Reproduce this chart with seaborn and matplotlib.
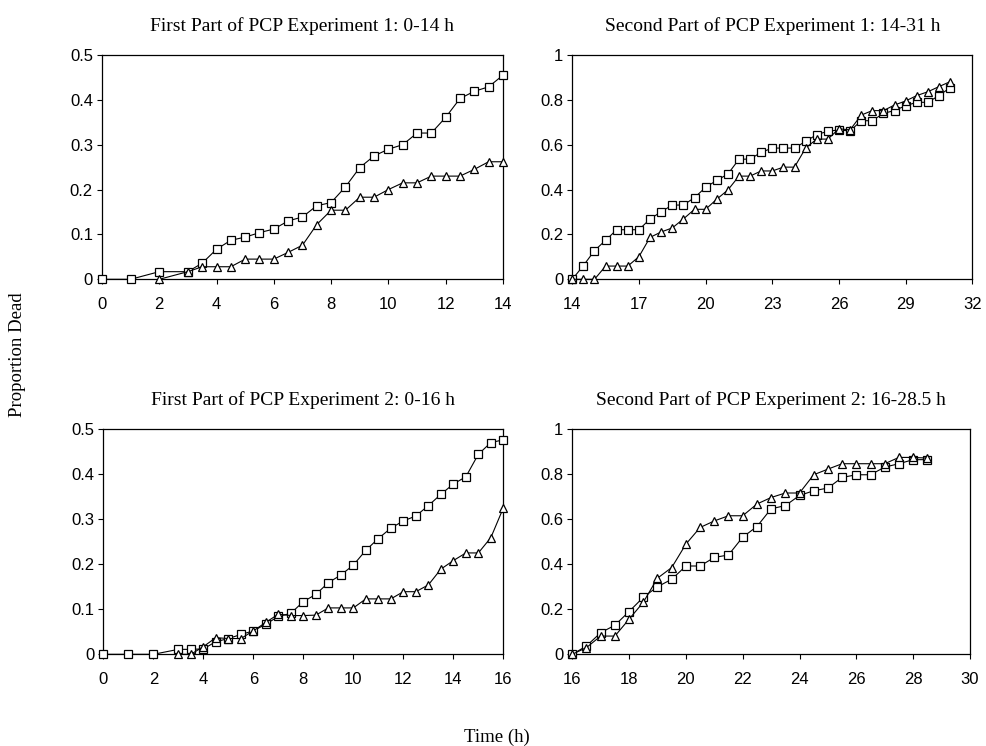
import matplotlib
matplotlib.use("Agg")
import matplotlib.pyplot as plt
import seaborn as sns
import pandas as pd

# ---------------- data ----------------
# Experiment 1, first part (0-14 h)
t1_sq = [0, 1, 2, 3, 3.5, 4, 4.5, 5, 5.5, 6, 6.5, 7, 7.5, 8, 8.5, 9, 9.5, 10, 10.5, 11, 11.5, 12, 12.5, 13, 13.5, 14]
e1a_sq = [0, 0, 0.017, 0.017, 0.036, 0.067, 0.087, 0.094, 0.104, 0.112, 0.130, 0.139, 0.164, 0.171, 0.206,
          0.249, 0.275, 0.290, 0.300, 0.326, 0.326, 0.361, 0.403, 0.419, 0.429, 0.455]
t1_tri = [2, 3, 3.5, 4, 4.5, 5, 5.5, 6, 6.5, 7, 7.5, 8, 8.5, 9, 9.5, 10, 10.5, 11, 11.5, 12, 12.5, 13, 13.5, 14]
e1a_tri = [0, 0.017, 0.028, 0.028, 0.028, 0.045, 0.045, 0.045, 0.060, 0.076, 0.122, 0.154, 0.154, 0.183,
           0.183, 0.200, 0.215, 0.215, 0.230, 0.230, 0.230, 0.245, 0.262, 0.262]

# Experiment 1, second part (14-31 h)
t2 = [14, 14.5, 15, 15.5, 16, 16.5, 17, 17.5, 18, 18.5, 19, 19.5, 20, 20.5, 21, 21.5, 22, 22.5, 23, 23.5,
      24, 24.5, 25, 25.5, 26, 26.5, 27, 27.5, 28, 28.5, 29, 29.5, 30, 30.5, 31]
e1b_sq = [0, 0.061, 0.128, 0.174, 0.221, 0.221, 0.221, 0.269, 0.301, 0.331, 0.331, 0.364, 0.410, 0.441,
          0.469, 0.535, 0.536, 0.566, 0.585, 0.585, 0.585, 0.615, 0.645, 0.660, 0.666, 0.661, 0.707, 0.707,
          0.740, 0.752, 0.774, 0.789, 0.789, 0.819, 0.854]
e1b_tri = [0, 0, 0, 0.059, 0.059, 0.059, 0.101, 0.187, 0.211, 0.229, 0.269, 0.312, 0.312, 0.357, 0.398,
           0.460, 0.460, 0.483, 0.483, 0.500, 0.500, 0.585, 0.625, 0.625, 0.671, 0.666, 0.732, 0.752, 0.752,
           0.777, 0.795, 0.819, 0.836, 0.859, 0.881]

# Experiment 2, first part (0-16 h)
t3_sq = [0, 1, 2, 3, 3.5, 4, 4.5, 5, 5.5, 6, 6.5, 7, 7.5, 8, 8.5, 9, 9.5, 10, 10.5, 11, 11.5, 12, 12.5,
         13, 13.5, 14, 14.5, 15, 15.5, 16]
e2a_sq = [0, 0, 0, 0.011, 0.011, 0.012, 0.028, 0.035, 0.044, 0.052, 0.067, 0.084, 0.091, 0.117, 0.133,
          0.159, 0.176, 0.198, 0.231, 0.257, 0.280, 0.296, 0.307, 0.330, 0.355, 0.378, 0.394, 0.444, 0.470, 0.476]
t3_tri = [3, 3.5, 4, 4.5, 5, 5.5, 6, 6.5, 7, 7.5, 8, 8.5, 9, 9.5, 10, 10.5, 11, 11.5, 12, 12.5, 13, 13.5,
          14, 14.5, 15, 15.5, 16]
e2a_tri = [0, 0, 0.017, 0.037, 0.035, 0.035, 0.052, 0.071, 0.089, 0.086, 0.086, 0.087, 0.103, 0.103, 0.103,
           0.123, 0.123, 0.123, 0.139, 0.139, 0.154, 0.189, 0.208, 0.225, 0.225, 0.259, 0.325]

# Experiment 2, second part (16-28.5 h)
t4 = [16, 16.5, 17, 17.5, 18, 18.5, 19, 19.5, 20, 20.5, 21, 21.5, 22, 22.5, 23, 23.5, 24, 24.5, 25, 25.5,
      26, 26.5, 27, 27.5, 28, 28.5]
e2b_sq = [0, 0.037, 0.096, 0.129, 0.190, 0.253, 0.300, 0.333, 0.392, 0.392, 0.430, 0.441, 0.520, 0.567,
          0.646, 0.660, 0.705, 0.726, 0.738, 0.785, 0.797, 0.797, 0.831, 0.846, 0.864, 0.864]
e2b_tri = [0, 0.030, 0.081, 0.081, 0.156, 0.231, 0.338, 0.385, 0.489, 0.563, 0.592, 0.615, 0.615, 0.667,
           0.696, 0.716, 0.716, 0.797, 0.822, 0.846, 0.846, 0.846, 0.846, 0.874, 0.874, 0.871]

titles = ["First Part of PCP Experiment 1: 0-14 h",
          "Second Part of PCP Experiment 1: 14-31 h",
          "First Part of PCP Experiment 2: 0-16 h",
          "Second Part of PCP Experiment 2: 16-28.5 h"]
xticks_list = [list(range(0, 15, 2)), list(range(14, 33, 3)), list(range(0, 17, 2)), list(range(16, 31, 2))]
yticks_half = [0, 0.1, 0.2, 0.3, 0.4, 0.5]
ylabels_half = ["0", "0.1", "0.2", "0.3", "0.4", "0.5"]
yticks_full = [0, 0.2, 0.4, 0.6, 0.8, 1.0]
ylabels_full = ["0", "0.2", "0.4", "0.6", "0.8", "1"]

panels = [
    (t1_sq, e1a_sq, t1_tri, e1a_tri, (0, 14), yticks_half, ylabels_half),
    (t2, e1b_sq, t2, e1b_tri, (14, 32), yticks_full, ylabels_full),
    (t3_sq, e2a_sq, t3_tri, e2a_tri, (0, 16), yticks_half, ylabels_half),
    (t4, e2b_sq, t4, e2b_tri, (16, 30), yticks_full, ylabels_full),
]

# ---------------- style ----------------
sns.set_theme(style="ticks")
plt.rcParams["font.family"] = ["Liberation Sans", "DejaVu Sans"]
serif = ["Liberation Serif", "DejaVu Serif"]

fig = plt.figure(figsize=(9.86, 7.46), dpi=100)
positions = [
    [0.1034, 0.6256, 0.4067, 0.3007],
    [0.5804, 0.6256, 0.4057, 0.3007],
    [0.1048, 0.1229, 0.4057, 0.3020],
    [0.5804, 0.1229, 0.4033, 0.3020],
]

for pos, title, xt, (xs, ys, xt_, yt_, xlim, ytk, ylb) in zip(positions, titles, xticks_list, panels):
    ax = fig.add_axes(pos)
    df_sq = pd.DataFrame({"time": xs, "prop": ys})
    df_tri = pd.DataFrame({"time": xt_, "prop": yt_})
    sns.lineplot(data=df_sq, x="time", y="prop", ax=ax, color="black", lw=0.8,
                 marker="s", ms=5.2, markerfacecolor="white", markeredgecolor="black",
                 markeredgewidth=0.9, estimator=None, sort=False, legend=False, zorder=3,
                 clip_on=False)
    sns.lineplot(data=df_tri, x="time", y="prop", ax=ax, color="black", lw=0.8,
                 marker="^", ms=6.2, markerfacecolor="white", markeredgecolor="black",
                 markeredgewidth=0.9, estimator=None, sort=False, legend=False, zorder=3,
                 clip_on=False)
    ax.set_xlim(*xlim)
    ax.set_ylim(ytk[0], ytk[-1])
    ax.set_xticks(xt)
    ax.set_xticklabels([str(v) for v in xt])
    ax.set_yticks(ytk)
    ax.set_yticklabels(ylb)
    ax.set_xlabel("")
    ax.set_ylabel("")
    for s in ax.spines.values():
        s.set_visible(True)
        s.set_color("black")
        s.set_linewidth(0.9)
    ax.tick_params(axis="both", direction="out", length=3.5, width=0.8, colors="black",
                   labelsize=12, labelcolor="black")
    ax.tick_params(axis="x", pad=9)
    ax.tick_params(axis="y", pad=3)
    ax.set_title(title, fontsize=14, family=serif, pad=17, color="black")

fig.text(0.018, 0.524, "Proportion Dead", rotation=90, ha="center", va="center",
         fontsize=13.5, family=serif, color="black")
fig.text(0.504, 0.012, "Time (h)", ha="center", va="center",
         fontsize=13.5, family=serif, color="black")

fig.savefig("out.png", dpi=100, facecolor="white")
